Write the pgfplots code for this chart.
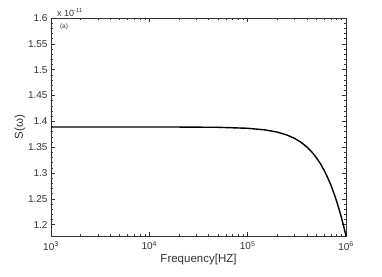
\documentclass[border=0pt]{standalone}
\usepackage{fontspec}
\setmainfont{Liberation Sans}
\usepackage{pgfplots}
\pgfplotsset{compat=1.18}
\definecolor{tk}{gray}{0.2}
\begin{document}
\begin{tikzpicture}
\begin{axis}[
  name=ax,
  scale only axis,
  width=295pt, height=218pt,
  xmode=log,
  xmin=1e3, xmax=1e6,
  ymin=1.178, ymax=1.6,
  xtick={1e3,1e4,1e5,1e6},
  xticklabels={10\textsuperscript{3},10\textsuperscript{4},10\textsuperscript{5},10\textsuperscript{6}},
  ytick={1.2,1.25,1.3,1.35,1.4,1.45,1.5,1.55,1.6},
  minor y tick num=4,
  yticklabel style={/pgf/number format/assume math mode=true,/pgf/number format/fixed,/pgf/number format/precision=2},
  tick align=inside,
  major tick length=4pt,
  minor tick length=2.2pt,
  tick style={color=tk, line width=0.5pt},
  axis line style={color=tk, line width=0.7pt},
  ticklabel style={font=\fontsize{10}{12}\selectfont, text=tk},
  xlabel={Frequency[HZ]},
  ylabel={S(ω)},
  label style={font=\fontsize{11.5}{13}\selectfont, text=tk},
  xlabel style={yshift=3pt},
  ylabel style={yshift=-4pt},
  xticklabel style={yshift=-2pt},
  clip=false,
]
\addplot[black, line width=1.4pt] coordinates {
(1e3,1.389) (1e4,1.389) (2e4,1.3889) (5e4,1.3884) (1e5,1.3865) (1.5e5,1.3834)
(2e5,1.3791) (2.5e5,1.3736) (3e5,1.3670) (3.5e5,1.3592) (4e5,1.3503)
(4.5e5,1.3404) (5e5,1.3295) (5.5e5,1.3177) (6e5,1.3049) (6.5e5,1.2913)
(7e5,1.2770) (7.5e5,1.2619) (8e5,1.2462) (8.5e5,1.2299) (9e5,1.2131)
(9.5e5,1.1958) (1e6,1.1781)
};
\node[anchor=south west, inner sep=0pt, font=\fontsize{9}{10}\selectfont, text=tk] at (rel axis cs:0.02,1.005) {x 10\textsuperscript{-11}};
\node[anchor=north west, inner sep=0pt, font=\fontsize{6.5}{8}\selectfont, text=tk] at (rel axis cs:0.03,0.975) {(a)};
\end{axis}
\useasboundingbox ([xshift=-51pt,yshift=-41pt]ax.south west) rectangle ([xshift=36pt,yshift=18pt]ax.north east);
\end{tikzpicture}
\end{document}
